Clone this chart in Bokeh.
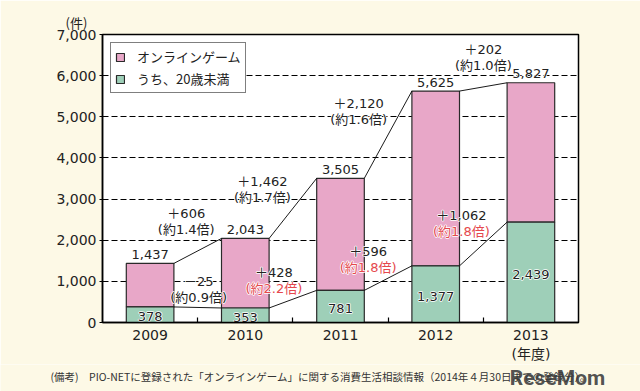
from bokeh.plotting import figure
from bokeh.layouts import column
from bokeh.models import (Range1d, FixedTicker, NumeralTickFormatter, Legend,
                          LegendItem, Title)
from bokeh.core.properties import value
from bokeh.embed import file_html
from bokeh.resources import INLINE

# ---------------- data ----------------
years = ["2009", "2010", "2011", "2012", "2013"]
online_game = [1437, 2043, 3505, 5625, 5827]   # オンラインゲーム (total)
under20 = [378, 353, 781, 1377, 2439]          # うち、20歳未満
y_ticks = [0, 1000, 2000, 3000, 4000, 5000, 6000, 7000]
x_unit_note = "(年度)"
y_unit_note = "(件)"
source_note = "(備考)　PIO-NETに登録された「オンラインゲーム」に関する消費生活相談情報（2014年４月30日までの登録分）。"

# anchor positions of the change annotations (data units), one per year pair
total_ann_x = [0.38, 1.18, 2.19, 3.50]
total_ann_y = [2446, 3221, 5123, 6431]
u20_ann_x = [0.51, 1.30, 2.29, 3.27]
u20_ann_y = [811, 1017, 1526, 2410]

NUMFONT = "'DejaVu Sans', 'Noto Sans CJK JP', sans-serif"
JPFONT = "'Noto Sans CJK JP', sans-serif"
PINK = "#E8A7C8"
GREEN = "#9ECFB8"
EDGE = "#2a2a2a"
TEXT = "#222222"
RED = "#E5484D"
CREAM = "#FDF9E6"

xs = list(range(len(years)))

p = figure(width=640, height=364, output_backend="svg", toolbar_location=None,
           x_range=Range1d(-0.5, 4.5), y_range=Range1d(0, 7000),
           min_border_left=102, min_border_right=62, min_border_top=34,
           min_border_bottom=41)
p.background_fill_color = "white"
p.border_fill_color = CREAM
p.outline_line_color = "black"
p.outline_line_width = 1.5

# unit label of the y axis
p.add_layout(Title(text=y_unit_note, align="left", offset=-37, standoff=6,
                   text_font=JPFONT, text_font_size="13px",
                   text_font_style="normal", text_color=TEXT), "above")

# grid
p.xgrid.visible = False
p.ygrid.ticker = FixedTicker(ticks=y_ticks[1:-1])
p.ygrid.grid_line_color = "black"
p.ygrid.grid_line_dash = "6 3"
p.ygrid.grid_line_width = 1

# y axis
p.yaxis.ticker = FixedTicker(ticks=y_ticks)
p.yaxis.formatter = NumeralTickFormatter(format="0,0")
p.yaxis.major_tick_out = 3
p.yaxis.major_tick_in = 0
p.yaxis.minor_tick_line_color = None
p.yaxis.major_label_standoff = 3
p.yaxis.axis_line_color = "black"
p.yaxis.axis_line_width = 1.5
p.yaxis.major_tick_line_color = "black"
p.yaxis.major_label_text_font = NUMFONT
p.yaxis.major_label_text_font_size = "14px"
p.yaxis.major_label_text_color = TEXT

# x axis
labels = {i: y for i, y in zip(xs, years)}
labels[xs[-1]] = years[-1] + "\n" + x_unit_note
p.xaxis.ticker = FixedTicker(ticks=xs, minor_ticks=[i + 0.5 for i in xs[:-1]])
p.xaxis.major_label_overrides = labels
p.xaxis.major_tick_in = 0
p.xaxis.major_tick_out = 0
p.xaxis.minor_tick_in = 5
p.xaxis.minor_tick_out = 0
p.xaxis.minor_tick_line_color = "black"
p.xaxis.minor_tick_line_width = 1.2
p.xaxis.major_label_standoff = 4
p.xaxis.axis_line_color = "black"
p.xaxis.axis_line_width = 1.5
p.xaxis.major_label_text_font = NUMFONT
p.xaxis.major_label_text_font_size = "14px"
p.xaxis.major_label_text_color = TEXT

# bars
pink = p.vbar(x=xs, width=0.5, bottom=under20, top=online_game,
              fill_color=PINK, line_color=EDGE, line_width=1.2)
green = p.vbar(x=xs, width=0.5, bottom=0, top=under20,
               fill_color=GREEN, line_color=EDGE, line_width=1.2)

# connecting lines between bar tops
p.segment(x0=[i + 0.25 for i in xs[:-1]], y0=online_game[:-1],
          x1=[i + 0.75 for i in xs[:-1]], y1=online_game[1:],
          line_color="black", line_width=0.9)
p.segment(x0=[i + 0.25 for i in xs[:-1]], y0=under20[:-1],
          x1=[i + 0.75 for i in xs[:-1]], y1=under20[1:],
          line_color="black", line_width=0.9)


def halo_text(fig, x, y, text, color, y_offset=0, size="13px", font=NUMFONT):
    common = dict(text_font=value(font), text_align="center",
                  text_baseline="middle", text_font_size=size,
                  y_offset=y_offset)
    # white halo underneath
    fig.text(x=x, y=y, text=text, text_color="white",
             text_outline_color="white", **common)
    fig.text(x=x, y=y, text=text, text_color=color, **common)


# value labels
halo_text(p, xs, online_game, [f"{v:,}" for v in online_game], TEXT, -9)
halo_text(p, xs, [v / 2 for v in under20], [f"{v:,}" for v in under20], TEXT, 2)


def change_texts(vals):
    d_txt, r_txt, diffs = [], [], []
    for a, b in zip(vals[:-1], vals[1:]):
        d = b - a
        diffs.append(d)
        d_txt.append(("＋" if d >= 0 else "－") + f"{abs(d):,}")
        r_txt.append(f"(約{b / a:.1f}倍)")
    return d_txt, r_txt, diffs


t_d, t_r, _ = change_texts(online_game)
u_d, u_r, u_diff = change_texts(under20)

halo_text(p, total_ann_x, total_ann_y, t_d, TEXT, -8)
halo_text(p, total_ann_x, total_ann_y, t_r, TEXT, 8)
halo_text(p, u20_ann_x, u20_ann_y, u_d, TEXT, -8)
halo_text(p, u20_ann_x, u20_ann_y, u_r,
          [RED if d > 0 else TEXT for d in u_diff], 8)

# legend
legend = Legend(items=[LegendItem(label="オンラインゲーム", renderers=[pink]),
                       LegendItem(label="うち、20歳未満", renderers=[green])],
                location="top_left", margin=8, padding=4, spacing=3,
                glyph_width=10, glyph_height=10, label_height=15,
                label_standoff=12, label_text_font=JPFONT,
                label_text_font_size="13px", label_text_color=TEXT,
                border_line_color="black", border_line_width=1,
                background_fill_color="white", background_fill_alpha=1)
p.add_layout(legend)

# ---------------- footer strip (source note + watermark) ----------------
q = figure(width=640, height=27, output_backend="svg", toolbar_location=None,
           x_range=Range1d(0, 640), y_range=Range1d(27, 0),
           x_axis_type=None, y_axis_type=None,
           min_border_left=0, min_border_right=0, min_border_top=0,
           min_border_bottom=0)
if "frame_align" in q.properties():
    q.frame_align = False
    p.frame_align = False
q.background_fill_color = CREAM
q.border_fill_color = CREAM
q.outline_line_color = None
q.xgrid.visible = False
q.ygrid.visible = False
q.text(x=[50], y=[12], text=[source_note], text_font=value(JPFONT),
       text_font_size="10.5px", text_align="left", text_baseline="middle",
       text_color="#333333")
q.text(x=[557], y=[13.5], text=["ReseMom"], text_font=value("Roboto"),
       text_font_style="bold", text_font_size="21px", text_align="center",
       text_baseline="middle", text_color="#3c3c3c", text_alpha=0.9)

page = column(p, q, spacing=0)
open("out.html", "w").write(file_html(page, INLINE))
